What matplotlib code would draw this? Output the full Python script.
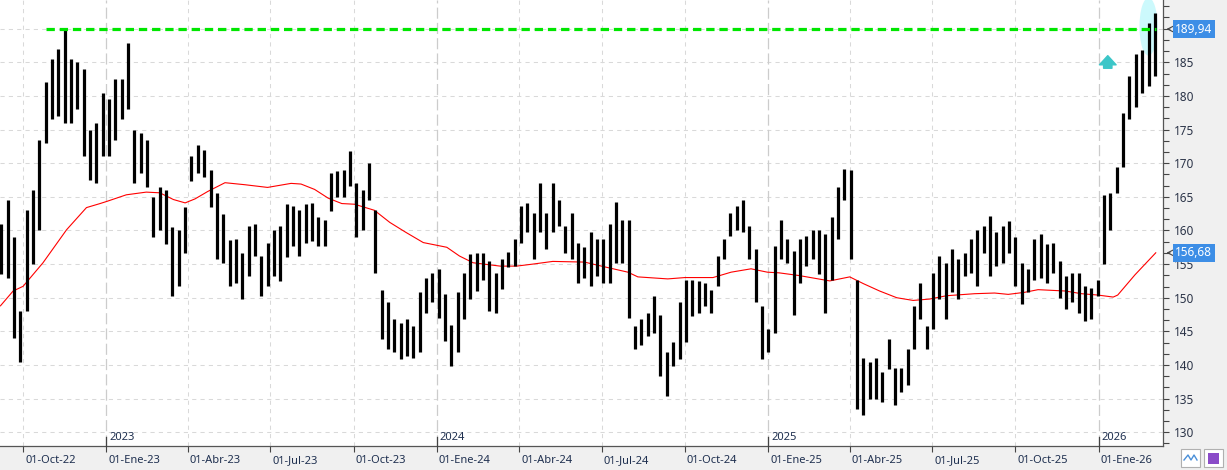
import matplotlib
matplotlib.use('Agg')
import matplotlib.pyplot as plt
import matplotlib.dates as mdates
import matplotlib.transforms as mtransforms
from matplotlib.ticker import FixedLocator, MultipleLocator
from matplotlib.patches import Ellipse, Rectangle
import pandas as pd

plt.rcParams['font.family'] = ['Noto Sans', 'DejaVu Sans']
plt.rcParams['lines.scale_dashes'] = False

# weekly price ranges (one bar per week)
week_start = '2022-09-07'
highs = [161, 164.5, 159, 148, 163, 166, 173.5, 182, 185.5, 187,
         189.8, 185.5, 185, 184, 175, 176, 180.5, 179.5, 182.5, 182.5,
         187.8, 175, 174.5, 173.5, 165, 166.5, 166, 160.5, 160, 163.5,
         171, 172.7, 172, 169, 165.5, 162.4, 158.6, 158.7, 156.7, 160.6,
         160.9, 156.2, 158.2, 160, 160.6, 164, 163.6, 163, 164, 164.1,
         162, 161.6, 168.5, 168.8, 169, 171.8, 167, 166, 170, 163,
         151.2, 149.3, 146.8, 146.3, 146.8, 145.8, 150.8, 153, 153.7, 154.2,
         150.5, 146, 150.8, 153.7, 156.5, 156.7, 156.7, 155.5, 153.7, 155.7,
         156.8, 158.7, 163.6, 164.1, 162.6, 167, 162.6, 167, 164.6, 160.6,
         162.6, 158.2, 157.5, 159.7, 158.7, 158.7, 161, 164.3, 161.6, 161.6,
         145.8, 146.8, 147.8, 150.3, 147.5, 142, 143.4, 149.3, 152.7, 152.7,
         152.5, 152.2, 151.2, 156.2, 158.7, 162.6, 163.6, 164.6, 160.6, 157.2,
         148.8, 145.3, 157.7, 161.6, 158.7, 157, 158.7, 159.2, 160.1, 160.1,
         159.5, 162, 166.5, 169.2, 169, 152.7, 141, 140.5, 141, 139,
         143.8, 139.5, 139.5, 142.4, 148.8, 152.2, 145.8, 153.7, 156.2, 155.2,
         157.2, 155.7, 156.7, 158.7, 160.1, 160.6, 162.1, 159.7, 160.6, 161.4,
         159, 155.2, 154.2, 158.7, 159.5, 158, 158.2, 155.5, 153.2, 153.7,
         153.7, 151.7, 151.5, 152.7, 165.2, 165.5, 169.5, 177.4, 183, 186.3,
         186.8, 190.8, 192.3]
lows = [153.5, 153, 144, 140.5, 148, 155, 160, 173, 176.5, 177,
        176, 176, 178, 171, 167.5, 167, 171, 171, 173.5, 176.5,
        178, 167, 168.5, 166.5, 159, 160, 158, 150.3, 151.7, 156.7,
        167.3, 168.5, 168, 163.5, 155.7, 155.2, 151.7, 152.2, 149.8, 153.2,
        156.2, 150.3, 151.7, 153.2, 152.5, 156, 157.7, 156.2, 158.2, 158.4,
        157.7, 157.7, 162.9, 165, 165, 166.6, 159, 160, 164.6, 153.7,
        143.8, 142.4, 141.9, 140.9, 141.4, 141.1, 141.9, 147.8, 149.3, 147,
        143.5, 139.9, 142, 146.8, 149.8, 151, 152.7, 148, 147.8, 151.3,
        154.5, 154.7, 158.2, 159.7, 155.7, 159.7, 157.2, 159.7, 160.6, 156.7,
        155.7, 152.2, 153, 151.7, 153.2, 152.2, 152.2, 155.2, 155.2, 147,
        142.4, 142.9, 144.3, 144.8, 138.4, 135.4, 139.9, 140.9, 143.4, 147.3,
        147.8, 148.8, 147.8, 151.7, 155.7, 159.2, 160, 159.7, 155.7, 149.3,
        140.9, 141.9, 144.8, 155.7, 155.2, 147.5, 152.2, 154.7, 155.7, 153.5,
        147.8, 152.7, 158.7, 164.6, 155.7, 133.5, 132.5, 135, 135, 134.5,
        139.4, 134, 136, 137, 142.4, 146.8, 142.4, 145.3, 149.8, 146.8,
        150.8, 149.8, 153.2, 153.7, 151.7, 156.7, 153.2, 154.7, 155.2, 156.7,
        151.7, 149, 150.8, 152.7, 153, 152.2, 153.7, 150, 148.3, 149.3,
        147.8, 146.6, 146.8, 150.3, 155, 160.1, 165.6, 169.5, 176.5, 178.4,
        180.5, 181.5, 183]
weeks = pd.date_range(week_start, periods=len(highs), freq='7D')

# moving average (red)
ma_dates = ['2022-09-06', '2022-09-20', '2022-10-01', '2022-10-23', '2022-11-18',
            '2022-12-10', '2022-12-25', '2023-01-01', '2023-01-23', '2023-02-14',
            '2023-03-01', '2023-03-16', '2023-03-29', '2023-04-09', '2023-04-23',
            '2023-05-12', '2023-06-03', '2023-06-28', '2023-07-24', '2023-08-04',
            '2023-08-19', '2023-09-03', '2023-09-18', '2023-10-02', '2023-10-24',
            '2023-11-10', '2023-11-28', '2023-12-17', '2024-01-12', '2024-01-26',
            '2024-02-10', '2024-03-11', '2024-03-29', '2024-04-16', '2024-05-08',
            '2024-06-12', '2024-07-04', '2024-07-30', '2024-08-10', '2024-09-12',
            '2024-10-01', '2024-11-01', '2024-11-21', '2024-12-13', '2024-12-31',
            '2025-01-13', '2025-02-04', '2025-03-10', '2025-04-01', '2025-04-16',
            '2025-05-04', '2025-05-23', '2025-06-10', '2025-06-28', '2025-07-17',
            '2025-08-17', '2025-09-08', '2025-09-23', '2025-10-11', '2025-10-26',
            '2025-11-25', '2025-12-13', '2025-12-31', '2026-01-17', '2026-01-22',
            '2026-02-10', '2026-03-05']
ma_vals = [148.8, 151, 151.7, 155.2, 160.1, 163.4, 164, 164.3, 165.3, 165.7,
           165.6, 164.6, 164.1, 164.7, 165.8, 167.1, 166.8, 166.4, 167, 166.9,
           166.1, 164.8, 164, 163.9, 163, 161.2, 159.7, 158.2, 157.5, 156.2,
           155.2, 154.7, 154.7, 155, 155.4, 155.3, 154.6, 153.8, 153.1, 152.8,
           153, 153, 153.8, 154.3, 153.8, 153.7, 153.3, 152.5, 153.1, 152.1,
           151, 150, 149.6, 149.8, 150.3, 150.6, 150.7, 150.5, 150.8, 151.2,
           151, 150.6, 150.4, 150.1, 150.4, 153.4, 156.68]

resist = 189.94
resist_from = '2022-10-26'
last_date = '2026-03-05'
last_ma = 156.68

quarters = pd.date_range('2022-10-01', '2026-01-01', freq='QS')
meses = {1: 'Ene', 4: 'Abr', 7: 'Jul', 10: 'Oct'}
q_labels = ['01-%s-%s' % (meses[d.month], d.strftime('%y')) for d in quarters]
years = [d for d in quarters if d.month == 1]

fig = plt.figure(figsize=(12.27, 4.70), dpi=100, facecolor='#f0f0f0')
ax = fig.add_axes([0, 24 / 470, 1163 / 1227, 446 / 470])
ax.set_facecolor('white')
ax.set_xlim(mdates.date2num(pd.Timestamp('2022-09-05 12:00')),
            mdates.date2num(pd.Timestamp('2026-03-13')))
ax.set_ylim(127.96, 194.26)

# grid
for v in range(130, 195, 5):
    ax.axhline(v, color='#d9d9d9', lw=0.75, dashes=(3, 3), zorder=0)
for d in quarters:
    if d.month == 1:
        ax.axvline(d, color='#cccccc', lw=0.9, dashes=(8, 3), zorder=0)
    else:
        ax.axvline(d, color='#d9d9d9', lw=0.75, dashes=(3, 3), zorder=0)

# highlight ellipse and signal arrow
ax.add_patch(Ellipse((mdates.date2num(pd.Timestamp('2026-02-25')), 190.3),
                     width=20, height=8.6, facecolor='#ccf9fc', edgecolor='none', zorder=1))
ax.annotate('', xy=(pd.Timestamp('2026-01-11'), 186.4), xytext=(pd.Timestamp('2026-01-11'), 183.7),
            arrowprops=dict(arrowstyle='simple,head_length=0.55,head_width=1.0,tail_width=0.5',
                            color='#3cc6c8', mutation_scale=12), zorder=3)

ax.plot(pd.to_datetime(ma_dates), ma_vals, color='#ff0000', lw=0.8, zorder=2)
ax.vlines(weeks, lows, highs, color='black', lw=2.3, zorder=3)
ax.hlines(resist, pd.Timestamp(resist_from), pd.Timestamp(last_date),
          color='#00e600', lw=2.3, linestyles=(0, (6, 3.5)), zorder=4)

# axes styling
for s in ['top', 'left']:
    ax.spines[s].set_visible(False)
for s in ['right', 'bottom']:
    ax.spines[s].set_color('#555555')
    ax.spines[s].set_linewidth(0.9)

ax.yaxis.tick_right()
ax.yaxis.set_major_locator(FixedLocator(list(range(130, 190, 5))))
ax.yaxis.set_minor_locator(MultipleLocator(5 / 3))
ax.tick_params(axis='y', which='both', length=4, width=0.8, color='#444444',
               labelsize=8.5, labelcolor='#2b3448', pad=4)

ax.set_xticks(quarters)
ax.set_xticklabels(q_labels)
ax.tick_params(axis='x', length=4.5, width=0.8, color='#444444',
               labelsize=8, labelcolor='#1f3050', pad=2)
shift = mtransforms.ScaledTranslation(2 / 100, 0, fig.dpi_scale_trans)
for lab in ax.get_xticklabels():
    lab.set_ha('left')
    lab.set_transform(lab.get_transform() + shift)

# year markers
for d in years:
    ax.plot([d, d], [0, 9 / 446], transform=ax.get_xaxis_transform(),
            color='#444444', lw=0.9, clip_on=False, zorder=5)
    ax.annotate(str(d.year), xy=(d, 8 / 446), xycoords=('data', 'axes fraction'),
                xytext=(2, 0), textcoords='offset points', ha='left', va='center',
                fontsize=8, color='#1f3050')

# value tags on the right
for val, txt in [(resist, '189,94'), (last_ma, '156,68')]:
    ax.annotate('', xy=(1.0005, val), xytext=(1.0085, val), xycoords=('axes fraction', 'data'),
                arrowprops=dict(arrowstyle='->', color='#444444', lw=0.8), annotation_clip=False)
    ax.text(1.0105, val, txt, transform=ax.get_yaxis_transform(), ha='left', va='center',
            fontsize=8.5, color='white',
            bbox=dict(boxstyle='square,pad=0.22', facecolor='#3d8ee6', edgecolor='none'))

# little toolbar buttons bottom right
fig.patches.append(Rectangle((1181 / 1227, 3 / 470), 19 / 1227, 18 / 470, transform=fig.transFigure,
                             facecolor='white', edgecolor='#b0b0b0', lw=0.8))
fig.patches.append(Rectangle((1204 / 1227, 3 / 470), 19 / 1227, 18 / 470, transform=fig.transFigure,
                             facecolor='white', edgecolor='#b0b0b0', lw=0.8))
fig.patches.append(Rectangle((1208 / 1227, 6 / 470), 11 / 1227, 11 / 470, transform=fig.transFigure,
                             facecolor='#8a4bc8', edgecolor='none'))
fig.lines.append(plt.Line2D([1184 / 1227, 1188 / 1227, 1191 / 1227, 1194 / 1227, 1197 / 1227],
                            [10 / 470, 15 / 470, 10 / 470, 15 / 470, 10 / 470],
                            transform=fig.transFigure, color='#4a8fd8', lw=1))

fig.savefig('out.png', dpi=100, facecolor=fig.get_facecolor())
